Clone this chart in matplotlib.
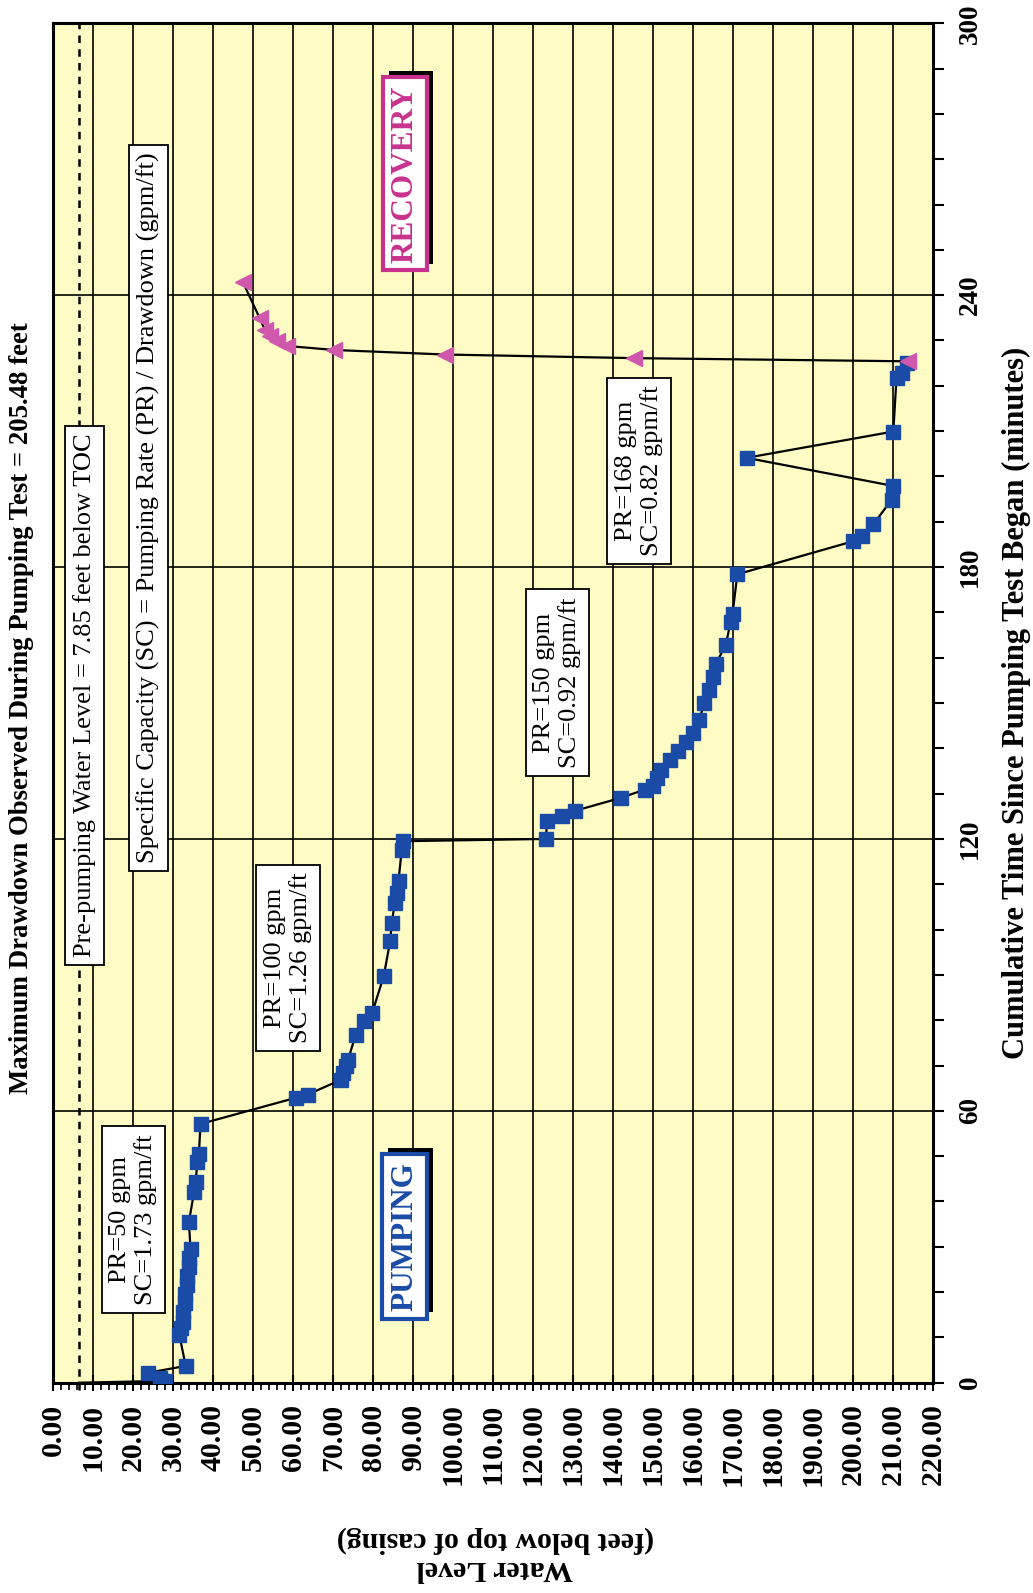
import matplotlib
matplotlib.use("Agg")
import matplotlib.pyplot as plt
import matplotlib.patheffects as pe
from matplotlib.ticker import MultipleLocator, FormatStrFormatter

plt.rcParams['font.family'] = ['Liberation Serif', 'DejaVu Serif']

# ---------------------------
# data
# ---------------------------
# pumping phase: cumulative minutes, water level (ft below top of casing)
pump_time = [0, 0.4, 1.1, 2.2, 3.7, 10.6, 12.1, 13.5, 15.5, 17.5, 19.5, 21.5, 23.5, 25.5, 27.5, 29.5,
             35.5, 42.1, 44.3, 48.7, 50.5, 57.1,
             62.9, 63.6, 66.8, 68.3, 69.8, 71.3, 76.8, 79.8, 81.6, 89.7, 97.4, 101.5, 105.9, 108.1,
             110.7, 117.6, 119.5,
             120.0, 124.0, 125.1, 126.2, 129.1, 130.9, 131.7, 133.5, 135.3, 137.5, 139.4, 141.5,
             143.4, 146.3, 149.9, 152.8, 155.8, 158.7, 162.7, 167.8, 169.6, 178.4,
             185.7, 186.8, 189.4, 194.9, 197.9, 204.1, 209.9, 221.8, 222.9, 225.1]
pump_level = [6.4, 27.8, 26.6, 23.7, 33.1, 31.5, 31.9, 32.3, 32.5, 32.8, 33.0, 33.3, 33.5, 33.8, 34.0, 34.3,
              33.9, 35.2, 35.6, 36.0, 36.4, 36.8,
              60.7, 63.6, 71.8, 72.5, 73.1, 73.7, 75.6, 77.6, 79.7, 82.6, 84.2, 84.6, 85.4, 85.9,
              86.3, 87.1, 87.5,
              123.1, 123.5, 127.2, 130.4, 142.0, 147.9, 150.0, 151.0, 152.0, 154.1, 156.1, 158.2,
              159.8, 161.5, 162.7, 164.0, 164.8, 165.6, 168.1, 169.3, 169.8, 171.0,
              200.0, 202.1, 205.0, 209.6, 210.0, 173.3, 210.0, 210.8, 212.1, 213.4]

# recovery phase
rec_time = [225.4, 226.1, 226.9, 227.9, 228.8, 229.8, 230.9, 232.4, 234.9, 242.9]
rec_level = [213.6, 145.2, 97.9, 70.2, 58.3, 55.8, 54.1, 52.9, 51.6, 47.4]

static_level = 6.4

# annotation boxes (water level, minutes, text)
notes = [
    (7.9, 151.7, "Pre-pumping Water Level = 7.85 feet below TOC"),
    (23.8, 193.0, "Specific Capacity (SC) = Pumping Rate (PR) / Drawdown (gpm/ft)"),
    (20.0, 36.0, "PR=50 gpm\nSC=1.73 gpm/ft"),
    (58.7, 93.7, "PR=100 gpm\nSC=1.26 gpm/ft"),
    (126.0, 154.5, "PR=150 gpm\nSC=0.92 gpm/ft"),
    (146.4, 201.2, "PR=168 gpm\nSC=0.82 gpm/ft"),
]

BLUE = '#1A4BA6'
PINK = '#CF57AC'
MAGENTA = '#C8328E'

# ---------------------------
# figure
# ---------------------------
fig = plt.figure(figsize=(10.33, 15.93), dpi=100)
ax = fig.add_axes([0.0516, 0.1320, 0.8519, 0.8534])
ax.set_facecolor('#FEFBC4')
ax.set_axisbelow(True)

ax.set_xlim(0, 220)
ax.set_ylim(0, 300)

ax.xaxis.set_major_locator(MultipleLocator(10))
ax.xaxis.set_minor_locator(MultipleLocator(2))
ax.xaxis.set_major_formatter(FormatStrFormatter('%.2f'))
ax.yaxis.set_major_locator(MultipleLocator(60))
ax.yaxis.set_minor_locator(MultipleLocator(10))
ax.yaxis.tick_right()

ax.grid(True, which='major', color='black', lw=1.2)

ax.tick_params(axis='x', which='major', direction='inout', length=12, width=1.5, pad=9,
               labelsize=21.5, labelrotation=90)
ax.tick_params(axis='x', which='minor', direction='out', length=5, width=1.2)
ax.tick_params(axis='y', which='both', direction='out', length=8, width=1.5, pad=10,
               labelsize=19.5, labelrotation=90)
for lab in ax.get_xticklabels() + ax.get_yticklabels():
    lab.set_fontweight('bold')
for lab in ax.get_yticklabels():
    lab.set_verticalalignment('center')

for s in ax.spines.values():
    s.set_linewidth(2.2)

# pre-pumping level
ax.plot([static_level, static_level], [-1.5, 300], color='black', lw=1.8,
        ls=(0, (3, 2.5)), clip_on=False, zorder=2)

# data
ax.plot(pump_level, pump_time, color='black', lw=1.6, marker='s', ms=10.5,
        mfc=BLUE, mec=BLUE, markevery=slice(1, None), zorder=5)
ax.plot(rec_level, rec_time, color='black', lw=1.6, marker='<', ms=11,
        mfc=PINK, mec=PINK, zorder=6)

for x, y, s in notes:
    ax.text(x, y, s, rotation=90, ha='center', va='center', multialignment='center',
            fontsize=19, linespacing=1.15, zorder=7,
            bbox=dict(boxstyle='square,pad=0.3', fc='white', ec='black', lw=1.3))

shadow = [pe.withSimplePatchShadow(offset=(4.5, 4.5), shadow_rgbFace='black', alpha=1.0)]
t1 = ax.text(87.9, 266.8, "RECOVERY", rotation=90, ha='center', va='center',
             fontsize=22.5, fontweight='bold', color=MAGENTA, zorder=7,
             bbox=dict(boxstyle='square,pad=0.25', fc='white', ec=MAGENTA, lw=3))
t1.get_bbox_patch().set_path_effects(shadow)
t2 = ax.text(87.8, 32.3, "PUMPING", rotation=90, ha='center', va='center',
             fontsize=22.5, fontweight='bold', color=BLUE, zorder=7,
             bbox=dict(boxstyle='square,pad=0.25', fc='white', ec=BLUE, lw=3))
t2.get_bbox_patch().set_path_effects(shadow)

# titles and axis labels
fig.text(22 / 1033, 1 - 708 / 1593,
         "Maximum Drawdown Observed During Pumping Test = 205.48 feet",
         rotation=90, ha='center', va='center', fontsize=19.3, fontweight='bold')
fig.text(1016 / 1033, 1 - 703 / 1593,
         "Cumulative Time Since Pumping Test Began (minutes)",
         rotation=90, ha='center', va='center', fontsize=22, fontweight='bold')
fig.text(495 / 1033, 1 - 1554 / 1593,
         "Water Level\n(feet below top of casing)",
         rotation=180, ha='center', va='center', fontsize=21.5, fontweight='bold',
         linespacing=1.1)

fig.savefig("out.png", dpi=100, facecolor='white')
